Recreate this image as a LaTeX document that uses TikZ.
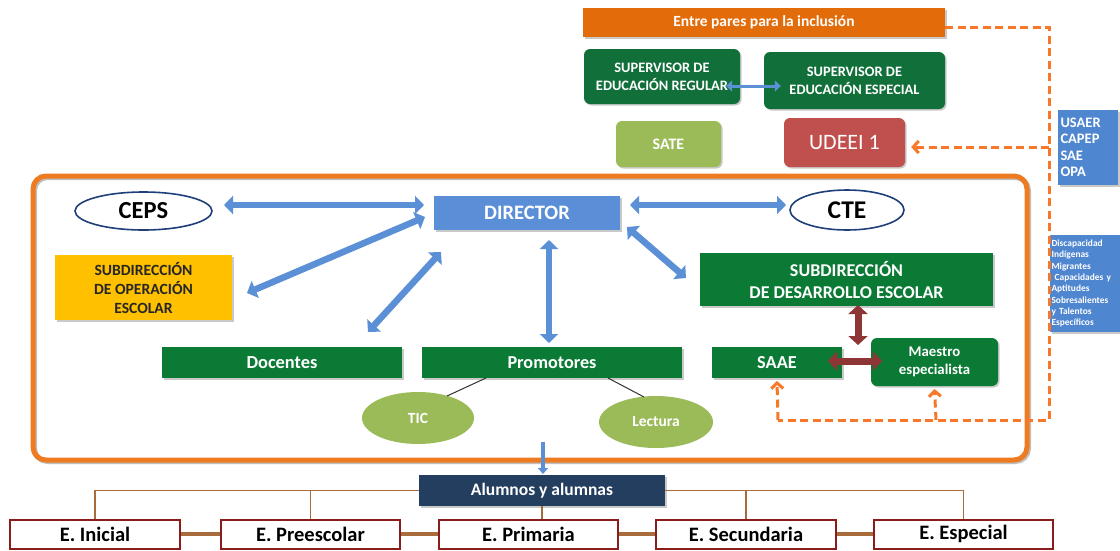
\documentclass[tikz,border=0pt]{standalone}
\usepackage{fontspec}
\setmainfont{Carlito}
\usetikzlibrary{arrows.meta,shapes.geometric,calc,shadows}
\definecolor{orbar}{HTML}{E36C0A}
\definecolor{frameor}{HTML}{EE7A22}
\definecolor{dashor}{HTML}{F67828}
\definecolor{dkgreen}{HTML}{0B7A35}
\definecolor{supgreen}{HTML}{11703A}
\definecolor{ltgreen}{HTML}{9BBB59}
\definecolor{udred}{HTML}{C0504D}
\definecolor{boxblue}{HTML}{4F86D0}
\definecolor{dirblue}{HTML}{5A8FD8}
\definecolor{arrblue}{HTML}{5B8FD6}
\definecolor{ylw}{HTML}{FFC000}
\definecolor{navy}{HTML}{233E5E}
\definecolor{darkred}{HTML}{8E3535}
\definecolor{brownln}{HTML}{A86B3C}
\definecolor{bordred}{HTML}{8B1C1C}
\definecolor{ellblue}{HTML}{1F3F7A}
\tikzset{
  box/.style={inner sep=0pt, align=center, text=white, drop shadow={shadow xshift=1.5pt, shadow yshift=-1.5pt, opacity=.35, fill=black!60}},
  gbox/.style={box, fill=dkgreen},
  rbox/.style={box, rounded corners=6pt},
  ell/.style={ellipse, inner sep=0pt, draw=ellblue, line width=1.6pt, fill=white, text=black},
  lell/.style={ellipse, inner sep=0pt, fill=ltgreen, text=white},
  barrow/.style={line width=6.5pt, draw=arrblue, {Triangle[length=9pt,width=18pt]}-{Triangle[length=9pt,width=18pt]}},
  rarrow/.style={line width=7pt, draw=darkred, {Triangle[length=9pt,width=19pt]}-{Triangle[length=9pt,width=19pt]}},
  odash/.style={draw=dashor, line width=3pt, dash pattern=on 8pt off 4.5pt},
  otip/.style={-{Straight Barb[length=5.5pt,width=12pt,line width=3pt]}},
  ebox/.style={draw=bordred, line width=2pt, fill=white, inner sep=0pt, minimum height=29pt, text=black, font=\bfseries\fontsize{20.5}{22}\selectfont},
  tree/.style={draw=brownln, line width=1.3pt},
}
\begin{document}
\begin{tikzpicture}[x=1pt,y=-1pt,font=\bfseries]
\useasboundingbox (0,0) rectangle (1120,550);
\fill[white] (0,0) rectangle (1120,550);

% main frame
\draw[black!25, line width=5pt, rounded corners=13pt] (34.5,177.5) rectangle (1028.5,461.5);
\draw[frameor, line width=5pt, rounded corners=13pt] (33,176) rectangle (1027,460);

% top area
\node[box, fill=orbar, minimum width=362pt, minimum height=29pt, font=\bfseries\fontsize{15.5}{17}\selectfont] (entre) at (764,22.5) {Entre pares para la inclusión};
\node[rbox, fill=supgreen, minimum width=156pt, minimum height=55pt, font=\bfseries\fontsize{14.4}{18}\selectfont] (supreg) at (662,76.5) {SUPERVISOR DE\\EDUCACIÓN REGULAR};
\node[rbox, fill=supgreen, minimum width=181pt, minimum height=57pt, font=\bfseries\fontsize{14.4}{18}\selectfont] (supesp) at (854.5,80.5) {SUPERVISOR DE\\EDUCACIÓN ESPECIAL};
\path (supreg.east |- 0,86) ++(-14,0) coordinate (sa) (supesp.west |- 0,86) ++(17,0) coordinate (sb);
\draw[line width=3pt, draw=arrblue, {Triangle[length=6pt,width=11pt]}-{Triangle[length=6pt,width=11pt]}] (sa) -- (sb);
\node[rbox, fill=ltgreen, minimum width=105pt, minimum height=46pt, font=\bfseries\fontsize{16}{18}\selectfont] (sate) at (668.5,144) {SATE};
\node[rbox, fill=udred, minimum width=121pt, minimum height=49pt, font=\fontsize{22}{24}\selectfont] (udeei) at (844.5,142.5) {UDEEI 1};

% right blue boxes
\node[box, fill=boxblue, minimum width=60pt, minimum height=75pt, align=left, text width=55pt, font=\bfseries\fontsize{14.5}{16.5}\selectfont] (usaer) at (1088,147.5) {USAER\\CAPEP\\SAE\\OPA};
\node[box, fill=boxblue, minimum width=70pt, minimum height=97pt, align=left, text width=67pt, font=\bfseries\fontsize{9.4}{11.3}\selectfont] (disc) at (1085,283.5) {Discapacidad\\Indígenas\\Migrantes\\\ Capacidades y\\Aptitudes\\Sobresalientes\\y Talentos\\Específicos};

% dashed orange connections
\coordinate (dtop) at (1049,27);
\coordinate (dudeei) at (1049,147);
\coordinate (dbot) at (1049,420);
\coordinate (dsaae) at (778,420);
\coordinate (dmae) at (936,420);
\draw[odash] (entre.east |- dtop) -- (dtop) -- (dbot) -- (dsaae);
\draw[odash, otip] (dudeei) -- ($(udeei.east |- dudeei)+(6,0)$);

% inside frame
\node[ell, minimum width=137pt, minimum height=38pt, font=\bfseries\fontsize{24.5}{26}\selectfont] (ceps) at (143.5,211) {CEPS};
\node[box, fill=dirblue, minimum width=186pt, minimum height=34pt, font=\bfseries\fontsize{20.5}{22}\selectfont] (dir) at (527,213) {DIRECTOR};
\node[ell, minimum width=114pt, minimum height=40pt, font=\bfseries\fontsize{25.5}{27}\selectfont] (cte) at (847,210) {CTE};
\node[box, fill=ylw, text=black!85, minimum width=177pt, minimum height=65pt, font=\bfseries\fontsize{15.6}{19}\selectfont] (subop) at (143.5,287.5) {SUBDIRECCIÓN\\DE OPERACIÓN\\ESCOLAR};
\node[gbox, minimum width=293pt, minimum height=53pt, font=\bfseries\fontsize{18}{22}\selectfont] (subdes) at (846.5,279.5) {SUBDIRECCIÓN\\DE DESARROLLO ESCOLAR};
\node[gbox, minimum width=240pt, minimum height=31pt, font=\bfseries\fontsize{18.4}{20}\selectfont] (doc) at (282,362.5) {Docentes};
\node[gbox, minimum width=260pt, minimum height=31pt, font=\bfseries\fontsize{18.2}{20}\selectfont] (prom) at (552,362.5) {Promotores};
\node[gbox, minimum width=130pt, minimum height=31pt, font=\bfseries\fontsize{18.3}{20}\selectfont] (saae) at (777,362.5) {SAAE};
\node[gbox, rounded corners=6pt, minimum width=127pt, minimum height=48pt, font=\bfseries\fontsize{14.8}{18}\selectfont] (mae) at (934.5,362) {Maestro\\especialista};
\node[lell, minimum width=112pt, minimum height=52pt, font=\bfseries\fontsize{15.5}{17}\selectfont] (tic) at (418,418) {TIC};
\node[lell, minimum width=114pt, minimum height=52pt, font=\bfseries\fontsize{15.5}{17}\selectfont] (lec) at (656,422) {Lectura};

\draw[odash, otip] (dsaae) -- (saae.south |- 0,381);
\draw[odash, otip] (dmae) -- (mae.south |- 0,389);

% blue arrows
\draw[barrow] (224,205) -- (424,205);
\draw[barrow] (630,205) -- (786,205);
\draw[barrow] (425,217) -- (247,293);
\draw[barrow] (441,252) -- (368,332);
\draw[barrow] (549,240) -- (549,343);
\draw[barrow] (627,227) -- (686,278);
% red arrows
\draw[rarrow] (858,305) -- (858,345);
\draw[rarrow] (828,361) -- (882,361);

% thin lines
\draw[black!80, line width=1pt] (486,378) -- (447,396);
\draw[black!80, line width=1pt] (608,378) -- (644,397);

% alumnos
\node[box, fill=navy, minimum width=246pt, minimum height=31pt, font=\bfseries\fontsize{17.5}{19}\selectfont] (alu) at (542,490.5) {Alumnos y alumnas};
\draw[line width=3.5pt, draw=arrblue, -{Triangle[length=6pt,width=10pt]}] (543,442) -- (543,474);

% bottom boxes
\node[ebox, minimum width=170pt] (ini) at (95,534) {E. Inicial};
\node[ebox, minimum width=179pt] (pre) at (310.5,534) {E. Preescolar};
\node[ebox, minimum width=179pt] (pri) at (528.5,534) {E. Primaria};
\node[ebox, minimum width=180pt] (sec) at (746,534) {E. Secundaria};
\node[ebox, minimum width=179pt] (esp) at (963.5,534) {E. Especial};

\draw[draw=brownln, line width=3.5pt] (ini) -- (pre) (pre) -- (pri) (pri) -- (sec) (sec) -- (esp);
\draw[tree] (alu.west) -- (ini.north |- alu.west) -- (ini.north);
\draw[tree] (pre.north |- alu.west) -- (pre.north);
\draw[tree] (alu.east) -- (esp.north |- alu.east) -- (esp.north);
\draw[tree] (sec.north |- alu.east) -- (sec.north);
\draw[tree] (alu.south) -- (alu.south |- pri.north);
\end{tikzpicture}
\end{document}
